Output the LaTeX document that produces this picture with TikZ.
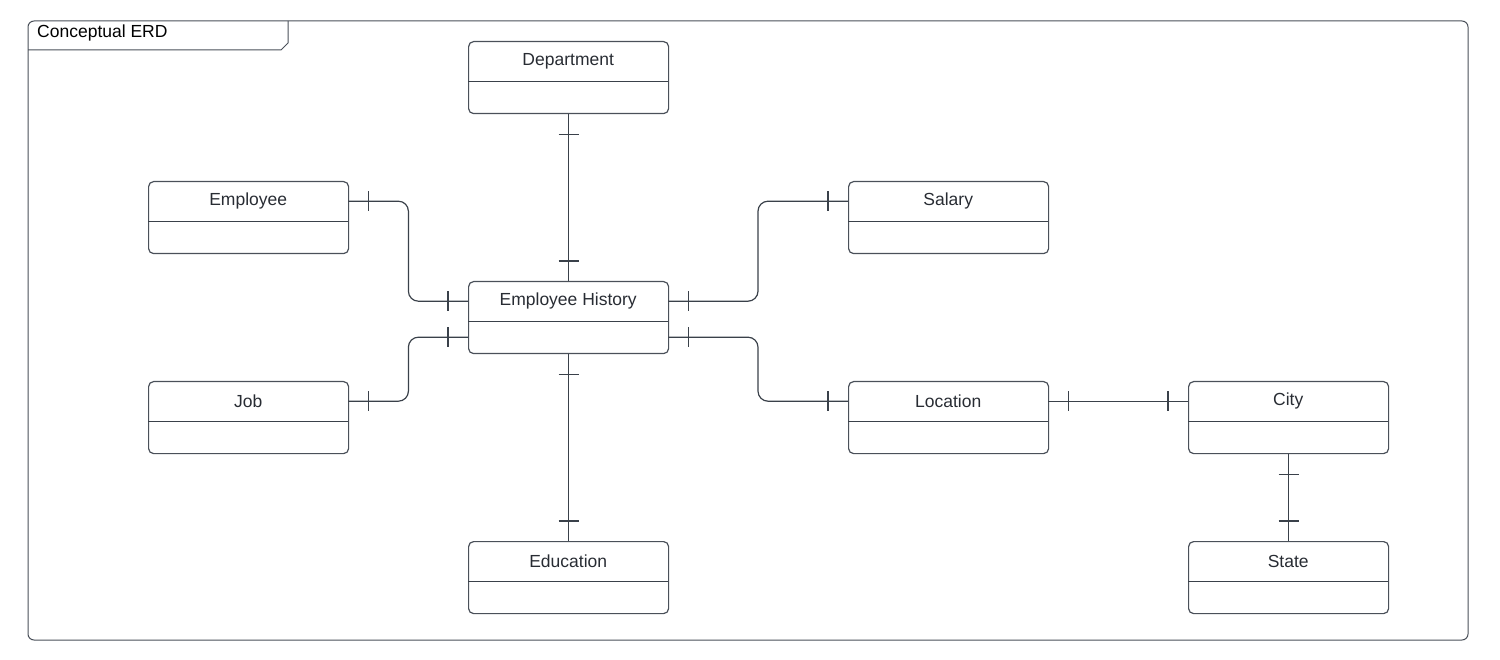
\documentclass[tikz,border=0pt]{standalone}
\usepackage{fontspec}
\setmainfont{Liberation Sans}
\definecolor{linec}{HTML}{3A414A}
\definecolor{boxc}{HTML}{4A5059}
\definecolor{txtc}{HTML}{282C33}
\newcommand\erent[4]{%
  \node[ent] (#1) at (#2,#3) {};
  \node[hdr] (#1H) at (#2,#3) {#4};
  \node[bdy] (#1B) at (#2,#3+40) {};
  \draw[divl] (#1H.south west) -- (#1H.south east);
}
\begin{document}
\begin{tikzpicture}[x=1pt,y=-1pt,
  ent/.style={draw=boxc, line width=1.2pt, rounded corners=5pt, minimum width=200pt, minimum height=72pt, inner sep=0pt, anchor=north west},
  hdr/.style={minimum width=200pt, minimum height=40pt, inner sep=0pt, anchor=north west, font=\fontsize{17.5}{20}\selectfont, text=txtc},
  bdy/.style={minimum width=200pt, minimum height=32pt, inner sep=0pt, anchor=north west},
  divl/.style={draw=linec, line width=1.2pt},
  conn/.style={draw=linec, line width=1.2pt, rounded corners=10pt},
  tk/.style={draw=linec, line width=1.2pt},
  frm/.style={draw=boxc, line width=1pt}]
\useasboundingbox (0,0) rectangle (1500,660);
% frame
\draw[frm, rounded corners=6pt] (28,21) rectangle (1468,640);
\draw[frm] (28,50) -- (281,50) -- (288,43) -- (288,21);
\node[anchor=west, inner sep=0pt, font=\fontsize{17.5}{20}\selectfont, text=black] (title) at (37,33) {Conceptual ERD};
% entities
\erent{dept}{468}{41}{Department}
\erent{emp}{148}{181}{Employee}
\erent{sal}{848}{181}{Salary}
\erent{eh}{468}{281}{Employee History}
\erent{job}{148}{381}{Job}
\erent{loc}{848}{381}{Location}
\erent{city}{1188}{381}{City}
\erent{edu}{468}{541}{Education}
\erent{state}{1188}{541}{State}
% connectors
\draw[conn] (dept.south) -- (eh.north);
\draw[conn] (eh.south) -- (edu.north);
\draw[conn] (empH.east) -- ++(60,0) |- (ehH.west);
\draw[conn] (jobH.east) -- ++(60,0) |- (ehB.west);
\draw[conn] (salH.west) -- ++(-90,0) |- (ehH.east);
\draw[conn] (locH.west) -- ++(-90,0) |- (ehB.east);
\draw[conn] (locH.east) -- (cityH.west);
\draw[conn] (city.south) -- (state.north);
% ticks (one-and-only-one)
\foreach \n/\s in {dept.south/-20,eh.north/20,eh.south/-20,edu.north/20,city.south/-20,state.north/20}
  \draw[tk] ([yshift=\s pt]\n) +(-10,0) -- +(10,0);
\foreach \n/\s in {empH.east/20,ehH.west/-20,salH.west/-20,ehH.east/20,jobH.east/20,ehB.west/-20,locH.west/-20,ehB.east/20,locH.east/20,cityH.west/-20}
  \draw[tk] ([xshift=\s pt]\n) +(0,-10) -- +(0,10);
\end{tikzpicture}
\end{document}
